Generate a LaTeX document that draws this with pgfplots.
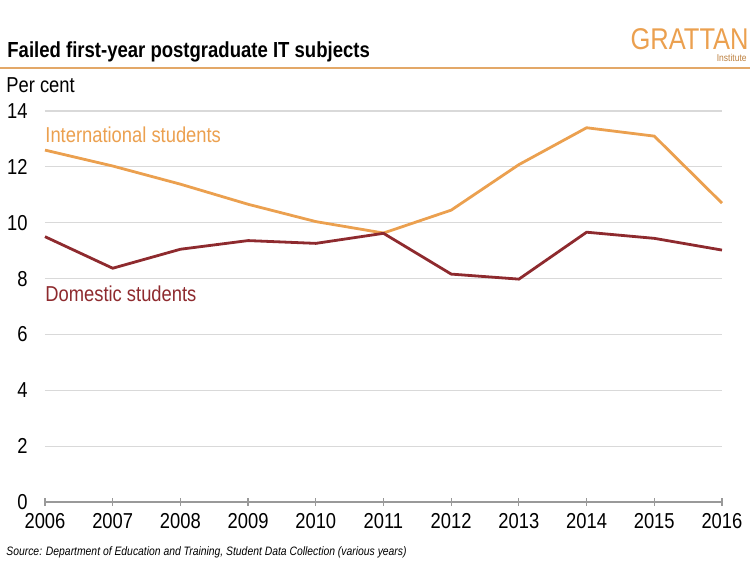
\documentclass[border=0pt]{standalone}
\usepackage{fontspec}
\setmainfont{Liberation Sans}[FakeStretch=0.85]
\usepackage{pgfplots}
\pgfplotsset{compat=1.18}
\definecolor{gorange}{HTML}{EBA04F}
\definecolor{gred}{HTML}{8E2A2E}
\definecolor{grule}{HTML}{E3A868}
\definecolor{ggrid}{HTML}{D9D9D9}
\begin{document}
\begin{tikzpicture}
\begin{scope}[x=0.5pt,y=0.5pt]
\path[use as bounding box] (0,0) rectangle (750,562);
\node[anchor=west,inner sep=0pt,font=\bfseries\fontsize{10.9}{12}\selectfont] at (7,562-52) {Failed first-year postgraduate IT subjects};
\draw[grule,line width=0.9pt] (0,562-68) -- (750,562-68);
\node[anchor=east,inner sep=0pt,text=gorange,font=\fontsize{15}{15}\selectfont] at (749,562-39) {GRATTAN};
\node[anchor=east,inner sep=0pt,text=gorange!80!black,font=\fontsize{5}{5}\selectfont] at (747,562-58) {Institute};
\node[anchor=west,inner sep=0pt,font=\fontsize{10.8}{12}\selectfont] at (6,562-85) {Per cent};
\node[anchor=west,inner sep=0pt,font=\itshape\fontsize{6.1}{7}\selectfont] at (6,562-552) {Source: Department of Education and Training, Student Data Collection (various years)};
\end{scope}
\begin{axis}[
  at={(22.5pt,30pt)}, anchor=origin,
  scale only axis, width=338.5pt, height=195.5pt,
  xmin=2006, xmax=2016, ymin=0, ymax=14,
  axis x line*=bottom, axis y line*=left,
  x axis line style={gray!80,line width=0.6pt,-},
  y axis line style={draw=none},
  xtick={2006,...,2016},
  ytick={2,4,...,14},
  yticklabels={},
  y tick style={draw=none},
  xticklabel style={/pgf/number format/1000 sep={}, font=\fontsize{10.8}{12}\selectfont},
  x tick style={gray!80,line width=0.6pt},
  tick align=center, major tick length=4pt,
  ymajorgrids, grid style={ggrid,line width=0.6pt},
  /pgf/number format/assume math mode=true,
  clip=false,
]
\addplot[gorange,line width=1.4pt] coordinates {
(2006,12.6) (2007,12.03) (2008,11.38) (2009,10.66) (2010,10.04) (2011,9.63)
(2012,10.45) (2013,12.08) (2014,13.4) (2015,13.1) (2016,10.7)};
\addplot[gred,line width=1.4pt] coordinates {
(2006,9.5) (2007,8.37) (2008,9.05) (2009,9.36) (2010,9.26) (2011,9.62)
(2012,8.16) (2013,7.98) (2014,9.66) (2015,9.44) (2016,9.02)};
\node[anchor=west,inner sep=0pt,text=gorange,font=\fontsize{10.8}{12}\selectfont] at (axis cs:2006,13.15) {International students};
\node[anchor=west,inner sep=0pt,text=gred,font=\fontsize{10.8}{12}\selectfont] at (axis cs:2006,7.45) {Domestic students};
\foreach \v in {0,2,...,14} {
  \edef\tmp{\noexpand\node[anchor=east,inner sep=0pt,font=\noexpand\fontsize{10.8}{12}\noexpand\selectfont] at (axis cs:2006,\v) [xshift=-8.5pt] {\v};}
  \tmp
}
\end{axis}
\end{tikzpicture}
\end{document}
